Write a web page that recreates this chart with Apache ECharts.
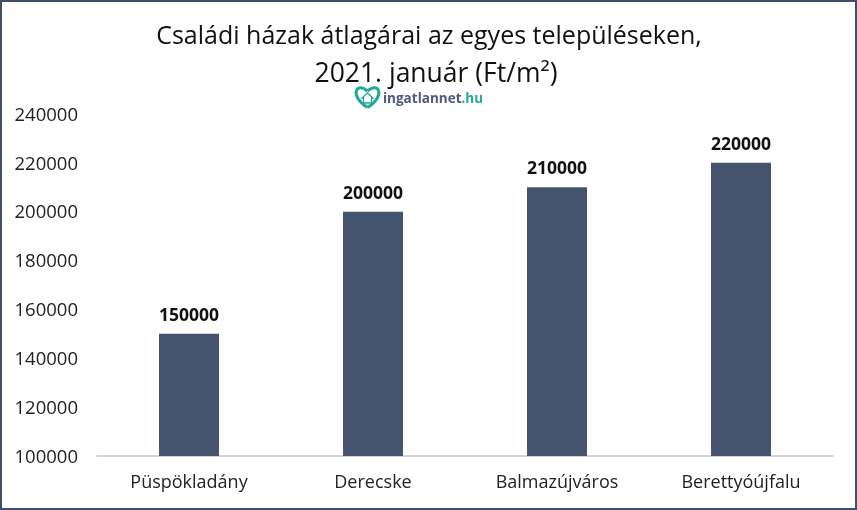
<!DOCTYPE html>
<html><head><meta charset="utf-8">
<style>html,body{margin:0;padding:0;background:#fff}#c{width:857px;height:510px}</style>
<script src="https://cdn.jsdelivr.net/npm/echarts@6/dist/echarts.min.js"></script>
</head><body><div id="c"></div>
<script>
const categories = ["Püspökladány","Derecske","Balmazújváros","Berettyóújfalu"];
const values = [150000,200000,210000,220000];
const titleLine1 = "Családi házak átlagárai az egyes településeken,";
const titleLine2 = "2021. január (Ft/m²)";
const FONT = "Open Sans";
const chart = echarts.init(document.getElementById('c'),null,{renderer:'canvas'});
const teal = '#23a89a';
chart.setOption({
  animation:false,
  backgroundColor:'#fff',
  title:[
    {text:titleLine1,left:429,top:24,textAlign:'center',padding:0,
      textStyle:{fontFamily:FONT,fontSize:25,fontWeight:'normal',color:'#111'}},
    {text:titleLine2,left:436,top:61,textAlign:'center',padding:0,
      textStyle:{fontFamily:FONT,fontSize:26.5,fontWeight:'normal',color:'#111'}}
  ],
  grid:{left:97,right:24,top:114,bottom:54},
  xAxis:{type:'category',data:categories,
    axisLine:{lineStyle:{color:'#d4d4d4',width:2}},axisTick:{show:false},
    axisLabel:{fontFamily:FONT,fontSize:18,color:'#222',margin:18}},
  yAxis:{type:'value',min:100000,max:240000,interval:20000,
    axisLine:{show:false},axisTick:{show:false},splitLine:{show:false},
    axisLabel:{margin:19,formatter:v=>'{v|'+v+'}',
      rich:{v:{fontFamily:FONT,fontSize:18.5,color:'#222',padding:[3,0,0,0]}}}},
  series:[{type:'bar',data:values,barWidth:60,
    itemStyle:{color:'#44546f'},
    label:{show:true,position:'top',distance:9,fontFamily:FONT,fontSize:17.5,fontWeight:'bold',color:'#111'}}],
  graphic:[
    {type:'rect',shape:{x:1,y:1,width:855,height:508},style:{fill:'none',stroke:'#3f4f6b',lineWidth:2},silent:true},
    {type:'bezierCurve',shape:{x1:367.5,y1:107.5,cpx1:349,cpy1:96,cpx2:356,cpy2:81,x2:367.5,y2:91},style:{fill:'none',stroke:teal,lineWidth:3}},
    {type:'bezierCurve',shape:{x1:367.5,y1:107.5,cpx1:386,cpy1:96,cpx2:379,cpy2:81,x2:367.5,y2:91},style:{fill:'none',stroke:teal,lineWidth:3}},
    {type:'polygon',shape:{points:[[367.5,93],[373,98],[371.5,98],[371.5,103],[363.5,103],[363.5,98],[362,98]]},style:{fill:'none',stroke:teal,lineWidth:1.3}},
    {type:'text',x:383,y:92,style:{
      rich:{a:{fontFamily:FONT,fontSize:13.5,fontWeight:'bold',fill:'#4a5a7c'},
            b:{fontFamily:FONT,fontSize:13.5,fontWeight:'bold',fill:teal}},
      text:'{a|ingatlannet}{b|.hu}'}}
  ]
});
</script></body></html>
